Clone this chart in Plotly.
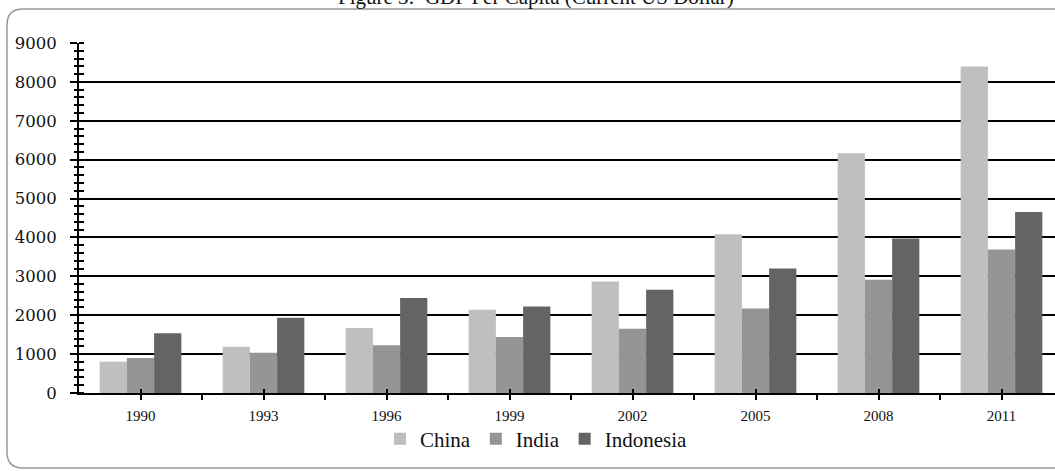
import plotly.graph_objects as go

# GDP per capita, current US dollars
years = ["1990", "1993", "1996", "1999", "2002", "2005", "2008", "2011"]
china = [805, 1190, 1672, 2141, 2867, 4082, 6162, 8393]
india = [900, 1036, 1226, 1441, 1654, 2174, 2910, 3690]
indonesia = [1535, 1936, 2441, 2226, 2654, 3200, 3975, 4653]

series_names = ["China", "India", "Indonesia"]
series_colors = ["#bfbfbf", "#959595", "#646464"]
y_ticks = [0, 1000, 2000, 3000, 4000, 5000, 6000, 7000, 8000, 9000]

W, H = 1055, 471
ML, MR, MT, MB = 79, 0, 43, 78
PW, PH = W - ML - MR, H - MT - MB
CAT_PX = 123.0  # width of one category slot in pixels


def px_x(p):
    return (p - ML) / PW


def px_y(p):
    return (H - MB - p) / PH


positions = list(range(len(years)))
x_end = -0.5 + PW / CAT_PX

fig = go.Figure()
for name, vals, col in zip(series_names, [china, india, indonesia], series_colors):
    fig.add_trace(go.Bar(
        x=positions, y=vals, name=name,
        marker=dict(color=col, line=dict(width=0)),
        xaxis="x", yaxis="y",
    ))

# empty trace binding the overlay axes that carry the inner half of crossing ticks
fig.add_trace(go.Scatter(x=[], y=[], xaxis="x2", yaxis="y2",
                         showlegend=False, hoverinfo="skip"))

serif = "Liberation Serif, Times New Roman, serif"

fig.update_layout(
    width=W, height=H,
    margin=dict(l=ML, r=MR, t=MT, b=MB),
    paper_bgcolor="white", plot_bgcolor="white",
    barmode="group", bargap=0.336, bargroupgap=0,
    showlegend=True,
    legend=dict(
        orientation="h", x=px_x(536), y=px_y(439),
        xanchor="center", yanchor="middle",
        font=dict(family=serif, size=21, color="#111111"),
        bgcolor="rgba(0,0,0,0)", itemclick=False,
        traceorder="normal",
    ),
    xaxis=dict(
        range=[-0.5, x_end], tickmode="array", tickvals=positions, ticktext=years,
        showgrid=False, zeroline=False,
        showline=True, linecolor="black", linewidth=2,
        ticks="outside", ticklen=5, tickwidth=2, tickcolor="black",
        ticklabelstandoff=3,
        tickfont=dict(family=serif, size=15, color="#111111"),
        minor=dict(tickmode="array", tickvals=[p + 0.5 for p in positions],
                   ticks="outside", ticklen=5, tickwidth=2, tickcolor="black"),
        fixedrange=True,
    ),
    xaxis2=dict(
        range=[-0.5, x_end], overlaying="x", anchor="y", side="bottom",
        tickmode="array", tickvals=positions, showticklabels=False,
        showgrid=False, zeroline=False, showline=False,
        ticks="inside", ticklen=4, tickwidth=2, tickcolor="black",
        fixedrange=True,
    ),
    yaxis=dict(
        range=[0, 9000], tickmode="array", tickvals=y_ticks,
        showgrid=True, gridcolor="black", gridwidth=1.6,
        zeroline=False, showline=True, linecolor="black", linewidth=2,
        ticks="outside", ticklen=7, tickwidth=2, tickcolor="black",
        ticklabelstandoff=10,
        tickfont=dict(family="DejaVu Serif", size=16.5, color="#111111"),
        minor=dict(dtick=200, ticks="outside", ticklen=3, tickwidth=1.5,
                   tickcolor="black", showgrid=False),
        fixedrange=True,
    ),
    yaxis2=dict(
        range=[0, 9000], overlaying="y", anchor="x", side="left",
        tickmode="array", tickvals=y_ticks, showticklabels=False,
        showgrid=False, zeroline=False, showline=False,
        ticks="", minor=dict(dtick=200, ticks="inside", ticklen=5, tickwidth=1.5,
                             tickcolor="black", showgrid=False),
        fixedrange=True,
    ),
)

# chart title, sitting above the frame's top edge
fig.add_annotation(
    text="Figure 3:  GDP Per Capita (Current US Dollar)",
    xref="paper", yref="paper", x=px_x(536), y=px_y(11),
    xanchor="center", yanchor="bottom", showarrow=False,
    font=dict(family=serif, size=21, color="#111111"),
)

# rounded frame around the chart
left, top, right, bottom, r = 7, 9, 1075, 468, 16
path = (
    f"M {px_x(right)} {px_y(top)} L {px_x(left + r)} {px_y(top)} "
    f"Q {px_x(left)} {px_y(top)} {px_x(left)} {px_y(top + r)} "
    f"L {px_x(left)} {px_y(bottom - r)} "
    f"Q {px_x(left)} {px_y(bottom)} {px_x(left + r)} {px_y(bottom)} "
    f"L {px_x(right)} {px_y(bottom)}"
)
fig.add_shape(type="path", path=path, xref="paper", yref="paper",
              line=dict(color="#9a9a9a", width=1.5), layer="above")

fig.write_html("out.html", config={"displayModeBar": False})
